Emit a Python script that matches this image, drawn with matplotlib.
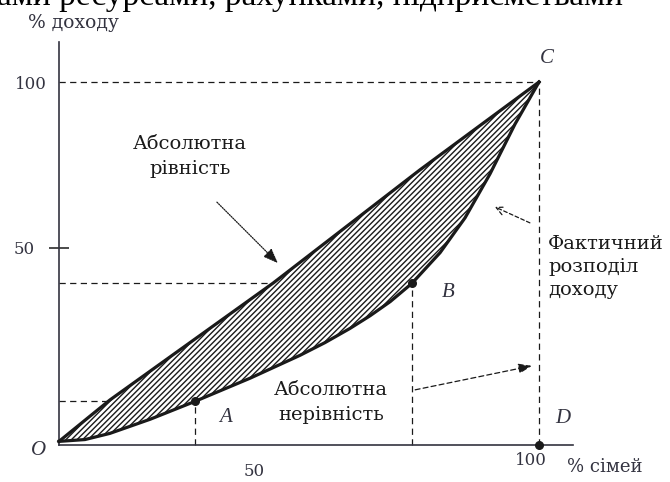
import numpy as np
import matplotlib
matplotlib.use("Agg")
import matplotlib.pyplot as plt

plt.rcParams['font.family'] = ['DejaVu Serif', 'DejaVu Sans']
plt.rcParams['hatch.linewidth'] = 1.0

INK = "#1a1a1a"
GREY = "#333340"

# ── дані (частка сімей, % ; частка доходу, %) ────────────────────────────────
pop_share    = [0, 5.4, 10.6, 19.0, 28.3, 39.8, 50.2, 55.4, 60.6, 64.8, 69.0,
                73.5, 79.4, 84.6, 89.8, 95.0, 100]
income_share = [1, 1.5, 3.2, 7.1, 12.0, 18.4, 24.7, 28.2, 32.1, 35.6, 39.5,
                44.5, 53.0, 62.6, 74.7, 88.4, 100]

equal_x = [0, 10.6, 44.6, 75.2, 100]
equal_y = [1, 12.4, 44.6, 75.8, 100]

dot_names = ['A', 'B', 'D']
dot_x = [28.3, 73.5, 100]
dot_y = [12.0, 44.5, 0]

top_x, top_y = 100, 100          # точка C

xtick_pos    = [40.6, 98.3]
xtick_labels = ['50', '100']
ytick_pos    = [54.3, 100]
ytick_labels = ['50', '100']


fig = plt.figure(figsize=(6.7, 4.82), dpi=100)
fig.patch.set_facecolor("white")
ax = fig.add_axes([0, 0, 1, 1])
ax.set_xlim(-12.29, 127.29)
ax.set_ylim(-10.19, 122.59)
ax.set_facecolor("white")

# осі
for side in ['top', 'right']:
    ax.spines[side].set_visible(False)
ax.spines['left'].set_position(('data', 0))
ax.spines['bottom'].set_position(('data', 0))
ax.spines['left'].set_bounds(0, 111)
ax.spines['bottom'].set_bounds(0, 107)
for side in ['left', 'bottom']:
    ax.spines[side].set_linewidth(1.2)
    ax.spines[side].set_color(GREY)

ax.set_yticks(ytick_pos, ytick_labels)
ax.set_xticks(xtick_pos, xtick_labels)
ax.tick_params(axis='y', direction='inout', length=14, width=1.1, color=INK,
               labelsize=12, labelcolor=GREY)
ax.tick_params(axis='x', length=0, labelsize=12, labelcolor=GREY)
yt = ax.yaxis.get_major_ticks()
yt[0].set_pad(10.3)
yt[1].set_pad(1.7)
yt[1].tick1line.set_visible(False)
xt = ax.xaxis.get_major_ticks()
xt[0].set_pad(13)
xt[1].set_pad(5)

# заштрихована область між лініями
poly_x = np.concatenate([equal_x, pop_share[::-1]])
poly_y = np.concatenate([equal_y, income_share[::-1]])
ax.fill(poly_x, poly_y, facecolor="white", edgecolor=INK, hatch='//////',
        linewidth=0, zorder=2)

# пунктирні допоміжні лінії
dash = dict(color=INK, lw=0.9, ls=(0, (5, 3.5)), zorder=1)
for x, y in zip(dot_x[:2], dot_y[:2]):
    ax.plot([0, np.interp(y, equal_y, equal_x)], [y, y], **dash)
    ax.plot([x, x], [0, y], **dash)
ax.plot([0, top_x], [top_y, top_y], **dash)
ax.plot([top_x, top_x], [0, top_y], **dash)

# лінія рівності та крива Лоренца
ax.plot(equal_x, equal_y, color=INK, lw=2.3, zorder=3, solid_joinstyle='round')
ax.plot(pop_share, income_share, color=INK, lw=2.3, zorder=3,
        solid_joinstyle='round')
ax.scatter(dot_x, dot_y, s=30, color=INK, zorder=4, clip_on=False)

# підписи точок
letter = dict(fontsize=15, style='italic', color=GREY, ha='center', va='center',
              family=['Liberation Serif', 'DejaVu Serif'])
ax.text(-4.2, -1.4, 'O', **letter)
ax.text(34.6, 7.7, 'A', **letter)
ax.text(81.0, 42.1, 'B', **letter)
ax.text(101.7, 106.6, 'C', **letter)
ax.text(105.0, 7.4, 'D', **letter)

# підписи
txt = dict(fontsize=14, color=INK, linespacing=1.45)
ax.text(27.3, 79.5, 'Абсолютна\nрівність', ha='center', va='center', **txt)
ax.text(56.7, 11.7, 'Абсолютна\nнерівність', ha='center', va='center', **txt)
ax.text(101.9, 49.0, 'Фактичний\nрозподіл\nдоходу', ha='left', va='center',
        fontsize=14, color=INK, linespacing=1.35)
ax.text(-6.5, 116.2, '% доходу', ha='left', va='center', fontsize=13.5, color=GREY)
ax.text(105.8, -6.1, '% сімей', ha='left', va='center', fontsize=13, color=GREY)

# стрілки
ax.annotate('', xy=(45.6, 50.1), xytext=(32.9, 66.9),
            arrowprops=dict(arrowstyle='-|>,head_length=0.9,head_width=0.35',
                            lw=0.9, ls=(0, (1, 1)), color=INK, shrinkA=0, shrinkB=0))
ax.annotate('', xy=(90.8, 65.6), xytext=(98.1, 61.2),
            arrowprops=dict(arrowstyle='->,head_length=0.6,head_width=0.3',
                            lw=0.9, ls=(0, (3, 2)), color=INK, shrinkA=0, shrinkB=0))
ax.annotate('', xy=(98.5, 21.8), xytext=(74.2, 15.2),
            arrowprops=dict(arrowstyle='-|>,head_length=0.8,head_width=0.3',
                            lw=0.9, ls=(0, (4, 2.5)), color=INK, shrinkA=0, shrinkB=0))

# обрізаний рядок тексту зверху сторінки
fig.text(-0.005, 1 - 5 / 482, 'ами ресурсами, рахунками, підприємствами',
         fontsize=24, color="black", family=['Liberation Serif', 'DejaVu Serif'],
         ha='left', va='baseline')

fig.savefig("out.png", dpi=100, facecolor="white")
